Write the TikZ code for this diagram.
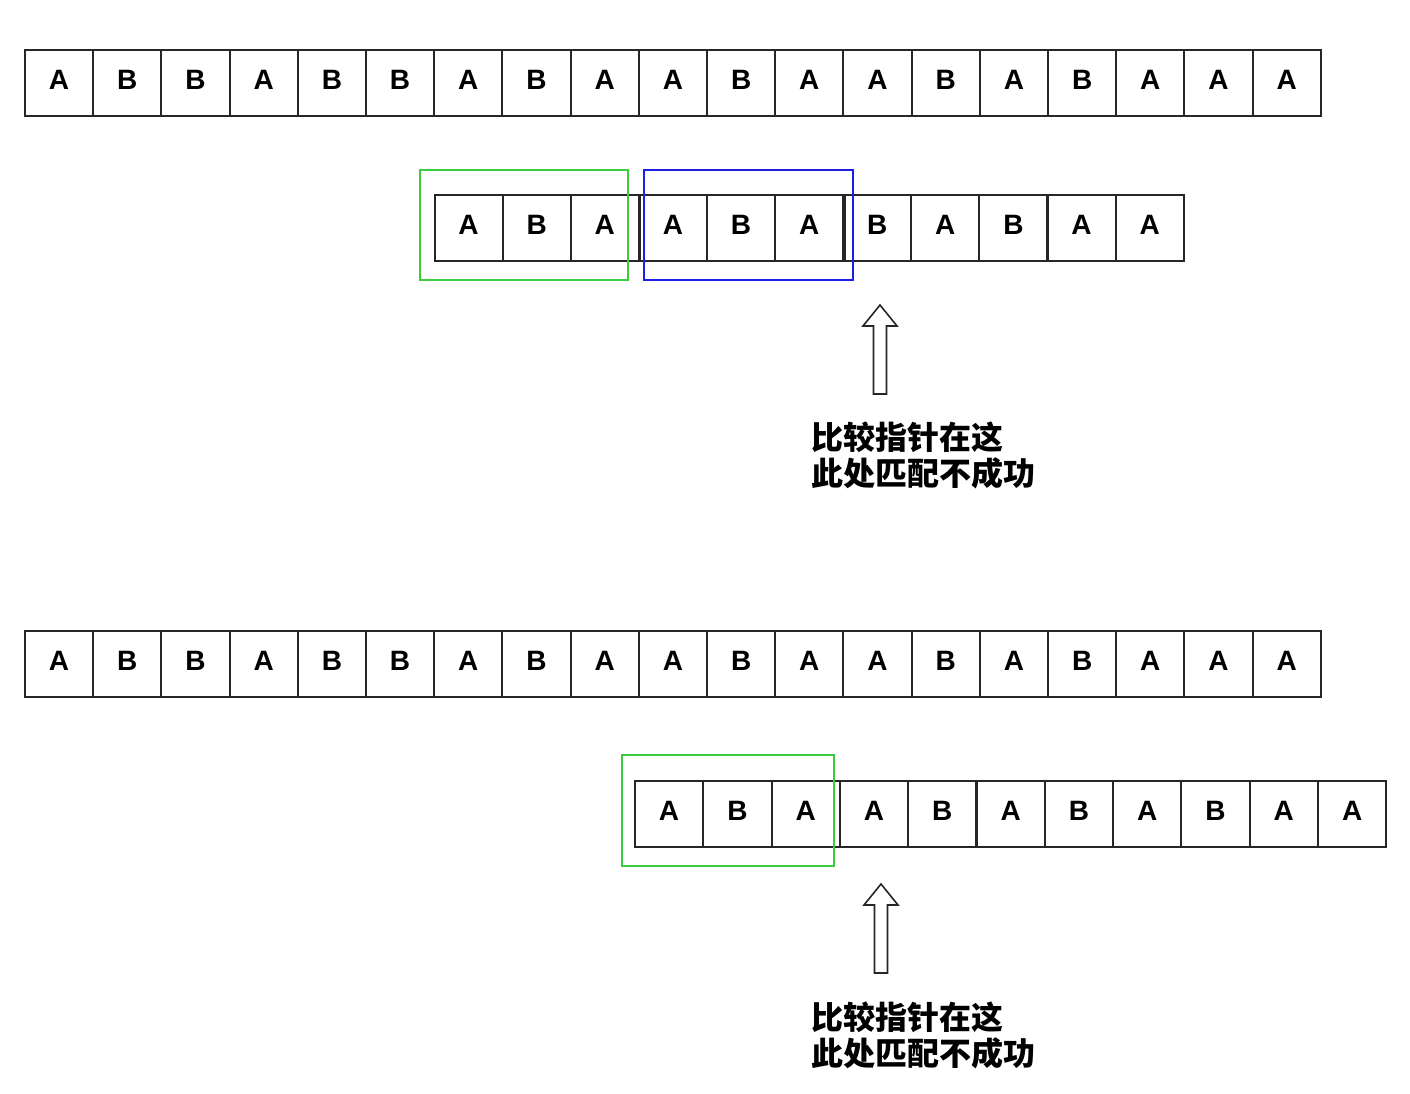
\documentclass[tikz,border=0pt]{standalone}
\usepackage{fontspec}
\setmainfont{Liberation Sans}
\newfontfamily\cjk{Noto Sans CJK SC}
\begin{document}
\begin{tikzpicture}[x=1pt,y=-1pt,
  cell/.style={draw=black!85, line width=2pt, minimum width=68.2pt, minimum height=65.5pt,
    inner sep=0pt, anchor=north west, text height=21pt, text depth=8pt,
    font=\bfseries\fontsize{28}{28}\selectfont},
  greenbox/.style={draw={rgb,255:red,60;green,205;blue,60}, line width=2pt},
  bluebox/.style={draw={rgb,255:red,30;green,30;blue,235}, line width=2pt},
  ptr/.style={draw=black!85, line width=1.6pt, line join=miter, fill=white},
  note/.style={anchor=base west, inner sep=0pt, font=\cjk\bfseries\fontsize{32}{36}\selectfont}]
\useasboundingbox (0,0) rectangle (1410,1094);
% ---------- upper section ----------
\foreach \l [count=\i from 0] in {A,B,B,A,B,B,A,B,A,A,B,A,A,B,A,B,A,A,A}
  \node[cell] (s\i) at (24+68.2*\i,49.5) {\l};
\foreach \l [count=\i from 0] in {A,B,A,A,B,A,B,A,B,A,A}
  \node[cell] (p\i) at (433.5+68.1*\i,194) {\l};
\draw[draw=black!85, line width=2pt] ([xshift=2.5pt]p3.north west) -- ([xshift=2.5pt]p3.south west);
\draw[draw=black!85, line width=2pt] ([xshift=3pt]p6.north west) -- ([xshift=3pt]p6.south west);
\draw[greenbox] (420,170) rectangle (628,280);
\draw[bluebox] (644,170) rectangle (853,280);
\coordinate (tip1) at (880,305);
\draw[ptr] (tip1) -- (897,326) -- (886.5,326) -- (886.5,394) -- (873.5,394) -- (873.5,326) -- (863,326) -- cycle;
\node[note] (n1a) at (811,449) {比较指针在这};
\node[note] (n1b) at (811,485) {此处匹配不成功};
% ---------- lower section ----------
\foreach \l [count=\i from 0] in {A,B,B,A,B,B,A,B,A,A,B,A,A,B,A,B,A,A,A}
  \node[cell] (t\i) at (24+68.2*\i,630) {\l};
\foreach \l [count=\i from 0] in {A,B,A,A,B,A,B,A,B,A,A}
  \node[cell] (q\i) at (634+68.3*\i,780) {\l};
\draw[greenbox] (622,755) rectangle (834,866);
\coordinate (tip2) at (881,884);
\draw[ptr] (tip2) -- (898,905) -- (887.5,905) -- (887.5,973) -- (874.5,973) -- (874.5,905) -- (864,905) -- cycle;
\node[note] (n2a) at (811,1029) {比较指针在这};
\node[note] (n2b) at (811,1065) {此处匹配不成功};
\end{tikzpicture}
\end{document}
